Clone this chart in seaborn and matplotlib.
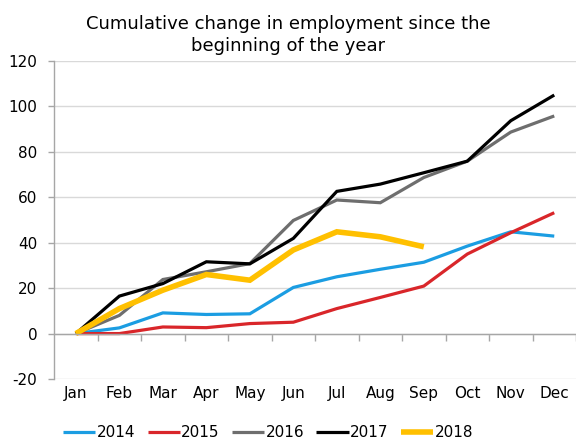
import numpy as np
import pandas as pd
import matplotlib
matplotlib.use("Agg")
import matplotlib.pyplot as plt
import seaborn as sns

months = ["Jan", "Feb", "Mar", "Apr", "May", "Jun",
          "Jul", "Aug", "Sep", "Oct", "Nov", "Dec"]

y2014 = [0, 2.5, 9.1, 8.4, 8.7, 20.3, 25.0, 28.3, 31.4, 38.5, 44.8, 42.9]
y2015 = [0, 0.0, 2.9, 2.6, 4.4, 5.0, 11.0, 15.9, 20.9, 35.0, 44.4, 53.2]
y2016 = [0, 8.0, 23.8, 27.2, 30.8, 49.8, 58.8, 57.6, 68.7, 75.9, 88.7, 95.8]
y2017 = [0, 16.5, 22.0, 31.6, 30.7, 41.9, 62.6, 65.8, 70.8, 75.9, 93.7, 105.0]
y2018 = [0, 11.0, 19.1, 26.0, 23.5, 36.8, 44.8, 42.6, 38.2]

years = ["2014", "2015", "2016", "2017", "2018"]
colors = ["#1B9DE2", "#D9262A", "#6E6E6E", "#000000", "#FFC000"]
widths = [2.3, 2.3, 2.3, 2.3, 4.0]

series = dict(zip(years, [y2014, y2015, y2016, y2017, y2018]))
rows = []
for yr, vals in series.items():
    for i, v in enumerate(vals):
        rows.append({"month": i, "year": yr, "value": v})
df = pd.DataFrame(rows)

sns.set_theme(style="white")
plt.rcParams["font.family"] = ["DejaVu Sans"]
plt.rcParams["axes.unicode_minus"] = False
plt.rcParams["text.color"] = "black"
plt.rcParams["xtick.color"] = "#A6A6A6"
plt.rcParams["ytick.color"] = "#A6A6A6"
plt.rcParams["xtick.labelcolor"] = "black"
plt.rcParams["ytick.labelcolor"] = "black"

fig = plt.figure(figsize=(5.76, 4.41), dpi=100)
ax = fig.add_axes([0.094, 0.1406, 0.906, 0.7211])

for yr, col, lw in zip(years, colors, widths):
    sns.lineplot(data=df[df["year"] == yr], x="month", y="value",
                 color=col, linewidth=lw, ax=ax, label=yr,
                 solid_capstyle="butt", solid_joinstyle="miter")

ax.set_xlim(-0.5, 11.5)
ax.set_ylim(-20, 120)
ax.set_yticks(np.arange(-20, 121, 20))
ax.yaxis.grid(True, color="#D9D9D9", linewidth=1.0)
ax.set_axisbelow(True)
ax.set_xlabel("")
ax.set_ylabel("")

for s in ["top", "right"]:
    ax.spines[s].set_visible(False)
ax.spines["left"].set_color("#A6A6A6")
ax.spines["left"].set_linewidth(1.0)
ax.spines["bottom"].set_position(("data", 0))
ax.spines["bottom"].set_color("#A6A6A6")
ax.spines["bottom"].set_linewidth(1.0)

# category separators along the zero line
ax.set_xticks(np.arange(12))
ax.set_xticklabels([])
ax.tick_params(axis="x", which="major", length=0)
ax.set_xticks(np.arange(0.5, 11.6, 1), minor=True)
ax.tick_params(axis="x", which="minor", bottom=True, direction="out",
               length=5, width=1.0, color="#A6A6A6")
ax.tick_params(axis="y", left=True, direction="out", length=4, width=1.0,
               color="#A6A6A6", labelsize=11, pad=8)

# month names sit below the plotting area
sec = ax.secondary_xaxis("bottom")
sec.set_xticks(np.arange(12))
sec.set_xticklabels(months)
sec.tick_params(length=0, labelsize=11, pad=5)
sec.spines["bottom"].set_visible(False)

fig.text(0.5, 0.967, "Cumulative change in employment since the\nbeginning of the year",
         ha="center", va="top", fontsize=13, linespacing=1.3)

ax.legend(loc="center", bbox_to_anchor=(0.41, -0.168), ncol=5,
          frameon=False, fontsize=11, handlelength=2.1, handletextpad=0.1,
          columnspacing=0.8, borderaxespad=0, borderpad=0)

fig.savefig("out.png", dpi=100)
